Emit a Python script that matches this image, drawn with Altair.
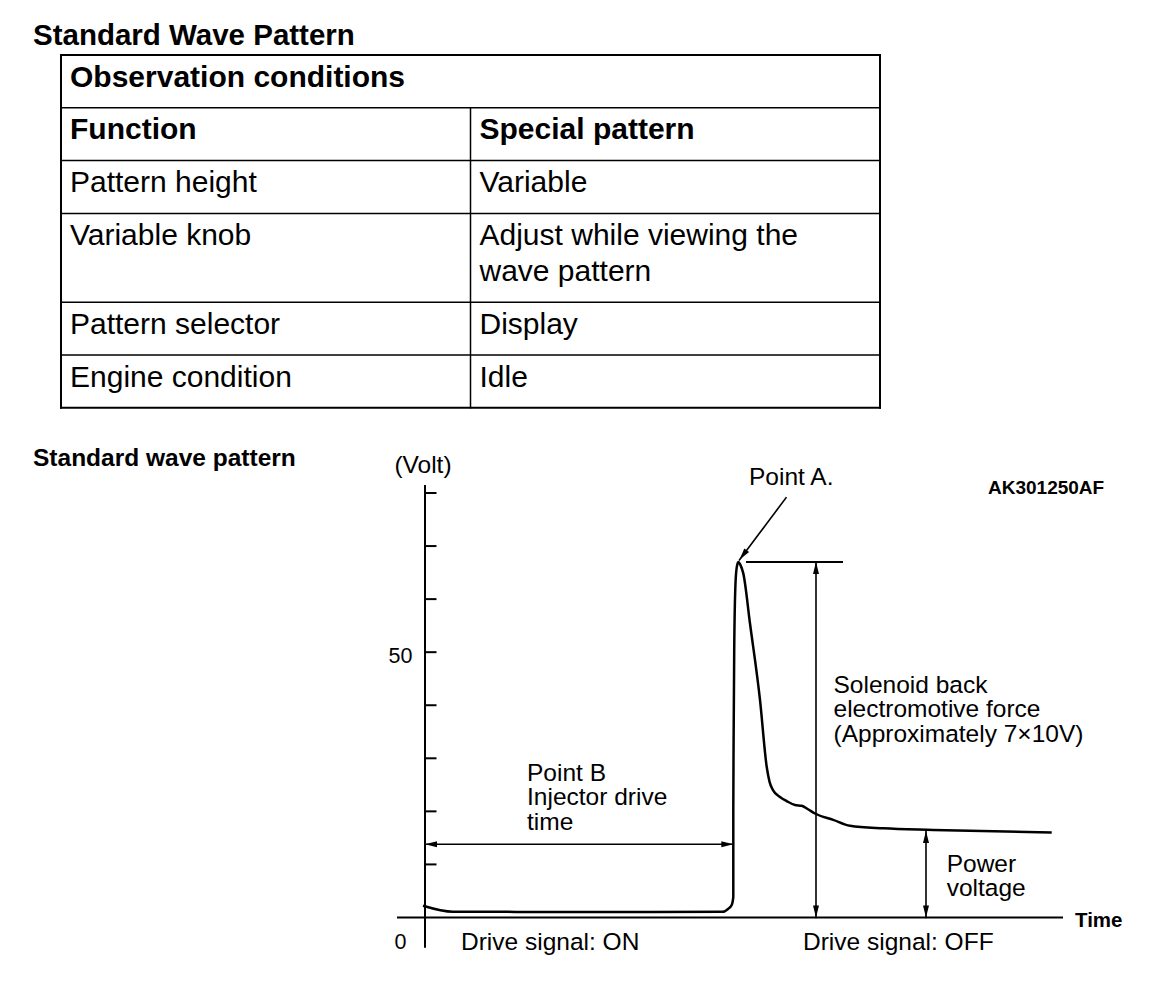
import math
import altair as alt
import pandas as pd

FONT = "Liberation Sans"

# ---------------- content: table ----------------
page_title = "Standard Wave Pattern"
table_heading = "Observation conditions"
column_heads = ["Function", "Special pattern"]
functions = ["Pattern height", "Variable knob", "Pattern selector", "Engine condition"]
settings = [["Variable"], ["Adjust while viewing the", "wave pattern"], ["Display"], ["Idle"]]

# ---------------- content: wave pattern ----------------
section_title = "Standard wave pattern"
figure_code = "AK301250AF"
y_unit_label = "(Volt)"
x_unit_label = "Time"
y_tick_values = [10, 20, 30, 40, 50, 60, 70, 80]
y_label_values = [0, 50]
y_label_texts = ["0", "50"]

# waveform (time in arbitrary units, volts)
wave_time = [-2, 28, 150, 298, 303, 306.7, 308.3, 308.3, 308.6, 309.2, 310.3, 311.6, 313.3,
             315.5, 318.3, 325, 335, 341.7, 344.5, 348, 355, 362, 370, 376.7, 383, 390,
             408.3, 425, 458.3, 508.3, 626.7]
wave_volt = [2.2, 1.07, 1.05, 1.07, 1.6, 2.35, 3.9, 20, 33, 50, 62, 65.8, 67.0,
             66.4, 64.85, 55.4, 41.0, 28.4, 25.6, 24.0, 22.7, 21.9, 21.2, 21.05, 20.4, 19.6,
             18.4, 17.3, 16.8, 16.5, 16.0]

peak_volt = 67.0
power_volt = 16.3
drive_end_time = 308.3

# ---------------- layout ----------------
W = 1136
H_TABLE = 420
H_WAVE = 553
PX_PER_VOLT = 5.306
V_TOP = 92.25
V_BOTTOM = V_TOP - H_WAVE / PX_PER_VOLT
T_LEFT = -417
T_RIGHT = T_LEFT + W

black = "#000000"


def text_layers(df, xs, ys):
    layers = []
    for (align, size, weight), g in df.groupby(["align", "size", "weight"]):
        layers.append(
            alt.Chart(g.reset_index(drop=True)).mark_text(
                align=str(align), baseline="alphabetic", font=FONT,
                fontSize=float(size), fontWeight=str(weight), color=black
            ).encode(
                x=alt.X("x:Q", scale=xs, axis=None),
                y=alt.Y("y:Q", scale=ys, axis=None),
                text="text:N",
            )
        )
    return layers


def rule_layer(df, xs, ys):
    return alt.Chart(df).mark_rule(color=black, strokeCap="square").encode(
        x=alt.X("x:Q", scale=xs, axis=None),
        x2="x2:Q",
        y=alt.Y("y:Q", scale=ys, axis=None),
        y2="y2:Q",
        strokeWidth=alt.StrokeWidth("w:Q", scale=None),
    )


# ================= TABLE PANEL =================
txs = alt.Scale(domain=[0, W], nice=False, zero=False)
tys = alt.Scale(domain=[0, H_TABLE], nice=False, zero=False, reverse=True)

tbl_left, tbl_top = 53.0, 47.0
col_w = 409.5
row_base, line_gap = 52.8, 36.0
pad_x, base_off = 9.0, 31.5
T_SIZE = 30

row_lines = [[table_heading], [column_heads[0]]] + [[f] for f in functions]
row_heights = [row_base + line_gap * (max(1, len(settings[i - 2]) if i >= 2 else 1) - 1)
               for i in range(len(row_lines))]
bounds = [tbl_top]
for h in row_heights:
    bounds.append(bounds[-1] + h)
tbl_right = tbl_left + 2 * col_w
col2 = tbl_left + col_w

trows = []
for i, yb in enumerate(bounds):
    outer = i in (0, len(bounds) - 1)
    trows.append(dict(x=tbl_left, x2=tbl_right, y=yb, y2=yb, w=2.0 if outer else 1.5))
trows.append(dict(x=tbl_left, x2=tbl_left, y=bounds[0], y2=bounds[-1], w=2.0))
trows.append(dict(x=tbl_right, x2=tbl_right, y=bounds[0], y2=bounds[-1], w=2.0))
trows.append(dict(x=col2, x2=col2, y=bounds[1], y2=bounds[-1], w=1.5))
trules = pd.DataFrame(trows)

ttexts = [dict(text=page_title, x=25.0, y=37.0, align="left", size=29.5, weight="bold"),
          dict(text=table_heading, x=tbl_left + pad_x, y=bounds[0] + base_off,
               align="left", size=T_SIZE, weight="bold")]
for j, head in enumerate(column_heads):
    ttexts.append(dict(text=head, x=tbl_left + j * col_w + pad_x, y=bounds[1] + base_off,
                       align="left", size=T_SIZE, weight="bold"))
for i, (fn, st) in enumerate(zip(functions, settings)):
    top = bounds[2 + i]
    ttexts.append(dict(text=fn, x=tbl_left + pad_x, y=top + base_off,
                       align="left", size=T_SIZE, weight="normal"))
    for k, line in enumerate(st):
        ttexts.append(dict(text=line, x=col2 + pad_x, y=top + base_off + k * line_gap,
                           align="left", size=T_SIZE, weight="normal"))
ttext_df = pd.DataFrame(ttexts)

table_chart = alt.layer(rule_layer(trules, txs, tys), *text_layers(ttext_df, txs, tys)).properties(
    width=W, height=H_TABLE)

# ================= WAVE PANEL =================
xs = alt.Scale(domain=[T_LEFT, T_RIGHT], nice=False, zero=False)
ys = alt.Scale(domain=[V_BOTTOM, V_TOP], nice=False, zero=False)

wave_df = pd.DataFrame({"x": wave_time, "y": wave_volt, "i": list(range(len(wave_time)))})
wave_line = alt.Chart(wave_df).mark_line(color=black, strokeWidth=2.5, strokeJoin="round",
                                         interpolate="monotone").encode(
    x=alt.X("x:Q", scale=xs, axis=None),
    y=alt.Y("y:Q", scale=ys, axis=None),
    order="i:Q",
)

tick_len = 10.5
leader_from = (361.0, 79.1)
leader_to = (314.5, 67.4)
wr = [
    dict(x=0, x2=0, y=-5.5, y2=81.3, w=2.0),            # y axis
    dict(x=-27, x2=637, y=0, y2=0, w=2.0),              # time axis
    dict(x=322, x2=417, y=peak_volt, y2=peak_volt, w=2.0),
    dict(x=391, x2=391, y=0, y2=peak_volt, w=1.6),
    dict(x=501, x2=501, y=0, y2=power_volt, w=1.6),
    dict(x=0, x2=drive_end_time, y=13.8, y2=13.8, w=1.6),
    dict(x=leader_from[0], x2=leader_to[0], y=leader_from[1], y2=leader_to[1], w=1.6),
]
for v in y_tick_values:
    wr.append(dict(x=0, x2=tick_len, y=v, y2=v, w=2.0))
wrules = pd.DataFrame(wr)

dx = leader_to[0] - leader_from[0]
dy_screen = (leader_from[1] - leader_to[1]) * PX_PER_VOLT
leader_angle = math.degrees(math.atan2(dx, -dy_screen)) % 360

heads = pd.DataFrame([
    dict(x=391, y=peak_volt, a=0), dict(x=391, y=0, a=180),
    dict(x=501, y=power_volt, a=0), dict(x=501, y=0, a=180),
    dict(x=0, y=13.8, a=270), dict(x=drive_end_time, y=13.8, a=90),
    dict(x=leader_to[0], y=leader_to[1], a=leader_angle),
])
ARROW = "M0,0L0.5,2L-0.5,2Z"
head_layer = alt.Chart(heads).mark_point(
    shape=ARROW, filled=True, size=144, color=black, opacity=1, strokeWidth=0
).encode(
    x=alt.X("x:Q", scale=xs, axis=None),
    y=alt.Y("y:Q", scale=ys, axis=None),
    angle=alt.Angle("a:Q", scale=None),
)

LS = 24.5 / PX_PER_VOLT
S = 24.5
wt = [
    dict(text=section_title, x=-392, y=85.07, align="left", size=24.5, weight="bold"),
    dict(text=y_unit_label, x=-2, y=83.8, align="center", size=S, weight="normal"),
    dict(text="Point A.", x=324, y=81.5, align="left", size=S, weight="normal"),
    dict(text=figure_code, x=563, y=79.9, align="left", size=19, weight="bold"),
    dict(text="Point B", x=102, y=25.76, align="left", size=S, weight="normal"),
    dict(text="Injector drive", x=102, y=25.76 - LS, align="left", size=S, weight="normal"),
    dict(text="time", x=102, y=25.76 - 2 * LS, align="left", size=S, weight="normal"),
    dict(text="Solenoid back", x=408.5, y=42.35, align="left", size=S, weight="normal"),
    dict(text="electromotive force", x=408.5, y=42.35 - LS, align="left", size=S, weight="normal"),
    dict(text="(Approximately 7\u00d710V)", x=408.5, y=42.35 - 2 * LS, align="left", size=S, weight="normal"),
    dict(text="Power", x=521.7, y=8.61, align="left", size=S, weight="normal"),
    dict(text="voltage", x=521.7, y=8.61 - LS, align="left", size=S, weight="normal"),
    dict(text=x_unit_label, x=650, y=-1.75, align="left", size=20.5, weight="bold"),
    dict(text="Drive signal: ON", x=36, y=-6.05, align="left", size=S, weight="normal"),
    dict(text="Drive signal: OFF", x=378, y=-6.05, align="left", size=S, weight="normal"),
]
label_y = {0: -6.0, 50: 47.9}
for val, txt in zip(y_label_values, y_label_texts):
    wt.append(dict(text=txt, x=-24.5, y=label_y[val], align="center", size=21.5, weight="normal"))
wtext_df = pd.DataFrame(wt)

wave_chart = alt.layer(
    rule_layer(wrules, xs, ys), wave_line, head_layer, *text_layers(wtext_df, xs, ys)
).properties(width=W, height=H_WAVE)

chart = alt.vconcat(table_chart, wave_chart, spacing=0, padding=0, background="white").configure_view(
    stroke=None
)

chart.save("out.html", embed_options={"renderer": "svg", "actions": False})
